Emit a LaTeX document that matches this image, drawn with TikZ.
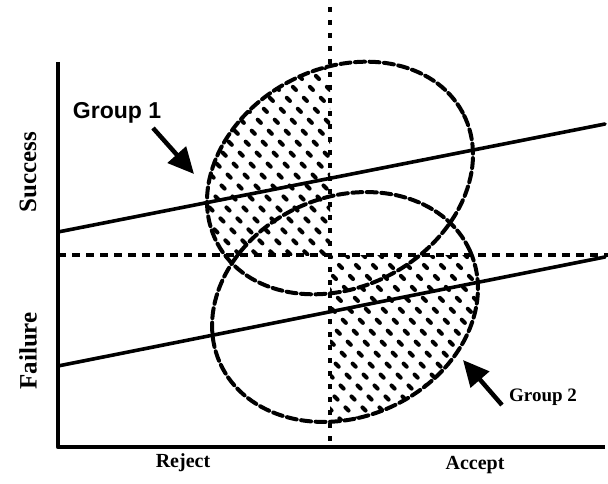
\documentclass[tikz,border=0pt]{standalone}
\usepackage{fontspec}
\setmainfont{Liberation Serif}
\newfontfamily\grpfont{Liberation Sans}
\usetikzlibrary{arrows.meta}
\begin{document}
\begin{tikzpicture}[x=1pt,y=1pt,
  axisline/.style={line width=4.5pt, line join=round},
  regline/.style={line width=3.6pt, line cap=round},
  divider/.style={line width=4.5pt, dash pattern=on 5pt off 8pt},
  midline/.style={line width=3.8pt, dash pattern=on 8pt off 6pt},
  ellline/.style={line width=4pt, dash pattern=on 10pt off 4.5pt, line cap=round},
  hatch/.style={line width=4pt, line cap=round, dash pattern=on 4.5pt off 11pt},
  ylbl/.style={font=\bfseries\fontsize{25}{25}\selectfont, inner sep=0pt, rotate=90},
  xlbl/.style={font=\bfseries\fontsize{20}{20}\selectfont, inner sep=0pt},
  glbl/.style={inner sep=0pt},
  grparrow/.style={line width=4.5pt, -{Triangle[length=26pt,width=24pt]}}
]
\useasboundingbox (0,0) rectangle (608,483);

% hatched parts
\begin{scope}
  \clip[rotate around={28:(340,305)}] (340,305) ellipse (139 and 109);
  \clip (0,228) rectangle (330,483);
  \foreach \i in {0,...,24} \draw[hatch] (\i*17-40,440) -- ++(320,-320);
\end{scope}
\begin{scope}
  \clip[rotate around={24:(345,176)}] (345,176) ellipse (137 and 110);
  \clip (330,0) rectangle (608,228);
  \foreach \i in {0,...,24} \draw[hatch] (\i*17+130,240) -- ++(260,-260);
\end{scope}

% ellipses
\draw[ellline, rotate around={28:(340,305)}] (340,305) ellipse (139 and 109);
\draw[ellline, rotate around={24:(345,176)}] (345,176) ellipse (137 and 110);

% dividing lines
\coordinate (vtop) at (330,476);
\coordinate (vbot) at (330,41);
\draw[divider] (vtop) -- (vbot);
\coordinate (hl) at (58,228);
\coordinate (hr) at (608,228);
\draw[midline] (hl) -- (hr);

% regression lines
\coordinate (u1) at (58,251);
\coordinate (u2) at (605,359);
\draw[regline] (u1) -- (u2);
\coordinate (l1) at (58,117);
\coordinate (l2) at (605,226);
\draw[regline] (l1) -- (l2);

% axes
\coordinate (ytop) at (58,421);
\coordinate (origin) at (58,36);
\coordinate (xend) at (605,36);
\draw[axisline] (ytop) -- (origin) -- (xend);

% labels
\node[ylbl] (ls) at (28,311) {Success};
\node[ylbl] (lf) at (28,132) {Failure};
\node[xlbl] (lr) at (183,20) {Reject};
\node[xlbl] (la) at (475,18) {Accept};
\node[glbl, font=\grpfont\bfseries\fontsize{23}{23}\selectfont] (g1) at (117,370) {Group 1};
\node[glbl, font=\bfseries\fontsize{19}{19}\selectfont] (g2) at (543,86) {Group 2};

% group arrows
\coordinate (a1s) at (153,355);
\coordinate (a1e) at (194,309);
\draw[grparrow] (a1s) -- (a1e);
\coordinate (a2s) at (502,78);
\coordinate (a2e) at (463,123);
\draw[grparrow] (a2s) -- (a2e);
\end{tikzpicture}
\end{document}
